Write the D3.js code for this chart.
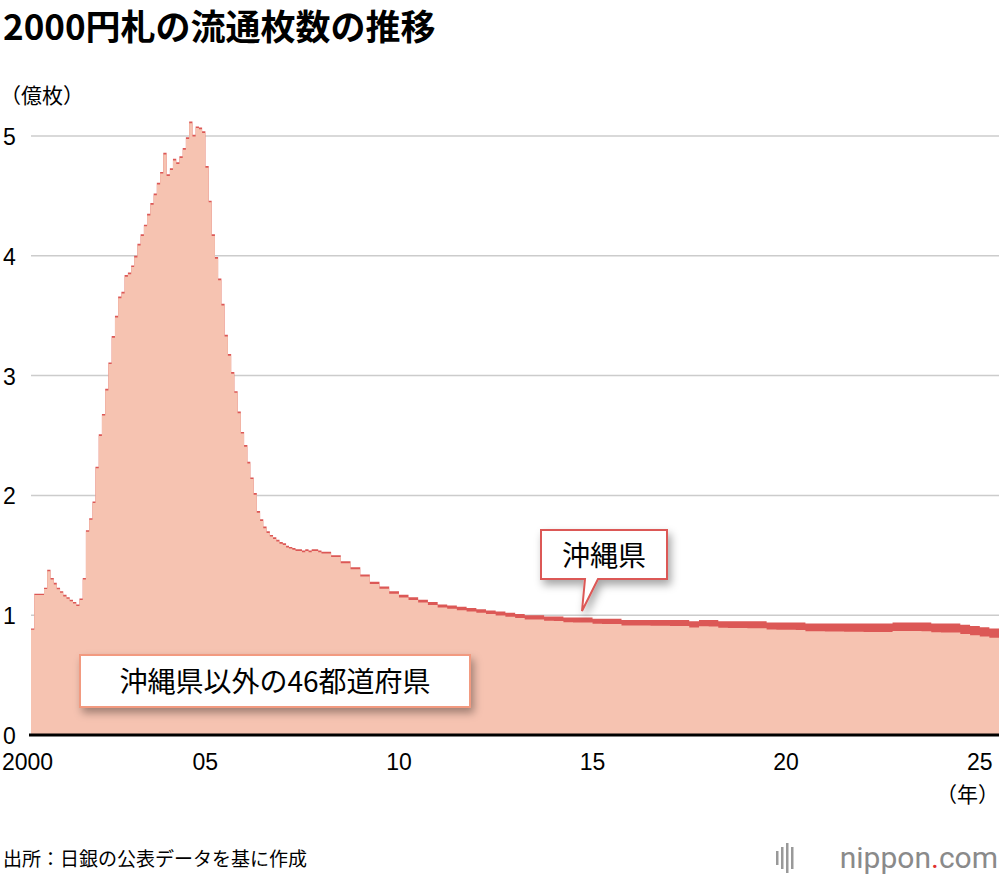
<!DOCTYPE html>
<html><head><meta charset="utf-8">
<script src="https://cdn.jsdelivr.net/npm/d3@7"></script>
<style>body{margin:0;background:#fff;font-family:"Noto Sans CJK JP",sans-serif}</style>
</head><body><svg id="c" width="1000" height="880"></svg>
<script>
// monthly values 2000-07 .. 2007-12 (億枚), total
const monthlyTotal = [0.89,1.18,1.18,1.18,1.23,1.38,1.31,1.27,1.23,1.20,1.17,1.15,1.13,1.11,1.09,1.14,1.31,1.71,1.81,1.95,
  2.24,2.51,2.68,2.89,3.11,3.33,3.50,3.66,3.70,3.84,3.86,3.92,4.00,4.10,4.18,4.26,4.35,4.44,4.52,4.61,
  4.70,4.86,4.68,4.73,4.81,4.78,4.83,4.90,4.99,5.12,5.01,5.08,5.07,5.04,4.75,4.46,4.18,3.99,3.81,3.60,
  3.34,3.18,3.03,2.87,2.70,2.53,2.42,2.28,2.15,2.02,1.87,1.80,1.74,1.70,1.67,1.65,1.63,1.61,1.60,1.58,
  1.57,1.56,1.55,1.55,1.54,1.55,1.54,1.55,1.55,1.54];
const monthlyOkinawa = [0.012,0.012,0.012,0.012,0.012,0.013,0.013,0.013,0.013,0.013,0.013,0.013,0.013,0.013,0.013,0.013,0.013,0.014,0.014,0.014,
  0.014,0.014,0.014,0.014,0.014,0.014,0.014,0.014,0.014,0.014,0.014,0.014,0.014,0.014,0.014,0.014,0.014,0.014,0.014,0.014,
  0.014,0.014,0.014,0.014,0.014,0.014,0.014,0.014,0.014,0.014,0.014,0.014,0.014,0.014,0.014,0.014,0.014,0.014,0.014,0.014,
  0.014,0.014,0.014,0.014,0.014,0.014,0.014,0.014,0.014,0.014,0.014,0.014,0.014,0.014,0.014,0.014,0.014,0.014,0.014,0.014,
  0.014,0.014,0.014,0.014,0.014,0.014,0.014,0.014,0.014,0.014];
// quarterly values 2008Q1 .. 2025Q2
const quarterlyTotal = [1.53,1.50,1.45,1.40, 1.34,1.28,1.24,1.20, 1.17,1.15,1.13,1.11, 1.09,1.08,1.07,1.06,
  1.05,1.04,1.03,1.02, 1.01,1.00,1.00,0.99, 0.99,0.98,0.98,0.98, 0.97,0.97,0.97,0.96, 0.96,0.96,0.96,0.96,
  0.96,0.96,0.95,0.96, 0.96,0.95,0.95,0.95, 0.95,0.95,0.94,0.94, 0.94,0.94,0.93,0.93, 0.93,0.93,0.93,0.93,
  0.93,0.93,0.93,0.94, 0.94,0.94,0.94,0.93, 0.93,0.93,0.92,0.91, 0.90,0.89];
const quarterlyOkinawa = [0.015,0.015,0.016,0.017, 0.018,0.019,0.02,0.021, 0.022,0.023,0.024,0.025, 0.026,0.027,0.028,0.029,
  0.03,0.031,0.032,0.033, 0.034,0.035,0.036,0.037, 0.038,0.039,0.04,0.041, 0.042,0.043,0.044,0.045, 0.046,0.047,0.048,0.049,
  0.05,0.051,0.052,0.053, 0.054,0.055,0.056,0.057, 0.058,0.059,0.06,0.061, 0.062,0.063,0.064,0.065, 0.066,0.067,0.068,0.069,
  0.07,0.07,0.071,0.071, 0.072,0.072,0.073,0.073, 0.074,0.075,0.076,0.077, 0.078,0.079];
const yTicks = [0,1,2,3,4,5];
const xTicks = [[2000,'2000'],[2005,'05'],[2010,'10'],[2015,'15'],[2020,'20'],[2025,'25']];

const dates = d3.timeMonth.range(new Date(2000,6,1), new Date(2008,0,1))
  .concat(d3.timeMonth.every(3).range(new Date(2008,0,1), new Date(2025,6,1)));
const totals = monthlyTotal.concat(quarterlyTotal);
const oki = monthlyOkinawa.concat(quarterlyOkinawa);
const data = dates.map((d,i) => ({date:d, others: totals[i]-oki[i], total: totals[i]}));
data.push({date:new Date(2025,6,1), others:data[data.length-1].others, total:data[data.length-1].total});

const svg = d3.select('#c');
const x = d3.scaleTime().domain([new Date(2000,6,1), new Date(2025,6,1)]).range([31, 999]);
const y = d3.scaleLinear().domain([0,5]).range([735, 136]);

svg.append('text').attr('x',3).attr('y',40).attr('font-size',35).attr('font-weight','bold').text('2000円札の流通枚数の推移');
svg.append('text').attr('x',0).attr('y',103).attr('font-size',21).text('（億枚）');

svg.append('g').selectAll('line').data(yTicks.slice(1)).join('line')
  .attr('x1',31).attr('x2',999).attr('y1',d=>y(d)).attr('y2',d=>y(d))
  .attr('stroke','#ccc').attr('stroke-width',1.5);
svg.append('g').selectAll('text').data(yTicks).join('text')
  .attr('x',3).attr('y',d=>y(d)+9).attr('font-size',23).attr('font-family','Liberation Sans, sans-serif').text(d=>d);

svg.append('path').datum(data)
  .attr('d', d3.area().curve(d3.curveStepAfter).x(d=>x(d.date)).y0(y(0)).y1(d=>y(d.total)))
  .attr('fill','#dc5856');
svg.append('path').datum(data)
  .attr('d', d3.area().curve(d3.curveStepAfter).x(d=>x(d.date)).y0(y(0)).y1(d=>y(d.others)))
  .attr('fill','#f6c3b1');

svg.append('line').attr('x1',29).attr('x2',999).attr('y1',735).attr('y2',735).attr('stroke','#000').attr('stroke-width',3);

svg.append('g').selectAll('text').data(xTicks).join('text')
  .attr('x',d=> d[0]===2000 ? 2 : x(new Date(d[0],0,1)))
  .attr('text-anchor',d=> d[0]===2000 ? 'start' : 'middle')
  .attr('y',770).attr('font-size',23).attr('font-family','Liberation Sans, sans-serif').text(d=>d[1]);
svg.append('text').attr('x',999).attr('y',802).attr('text-anchor','end').attr('font-size',21).text('（年）');

const defs = svg.append('defs');
defs.append('filter').attr('id','sh').attr('x','-20%').attr('y','-30%').attr('width','140%').attr('height','170%')
  .append('feDropShadow').attr('dx',3).attr('dy',5).attr('stdDeviation',4).attr('flood-color','#000').attr('flood-opacity',0.35);

const b1 = svg.append('g').attr('filter','url(#sh)');
b1.append('rect').attr('x',80).attr('y',655).attr('width',390).attr('height',52).attr('fill','#fff').attr('stroke','#f29a80').attr('stroke-width',2);
svg.append('text').attr('x',275).attr('y',692).attr('text-anchor','middle').attr('font-size',28).text('沖縄県以外の46都道府県');

const b2 = svg.append('g').attr('filter','url(#sh)');
b2.append('path').attr('d','M541,530 H667 V579 H598 L582,611 L585,579 H541 Z')
  .attr('fill','#fff').attr('stroke','#dc5856').attr('stroke-width',2);
svg.append('text').attr('x',604).attr('y',566).attr('text-anchor','middle').attr('font-size',28).text('沖縄県');

svg.append('text').attr('x',3).attr('y',866).attr('font-size',19).text('出所：日銀の公表データを基に作成');
const logo = svg.append('g');
logo.selectAll('rect').data([0,1,2,3]).join('rect')
  .attr('x',d=>776+d*5).attr('y',d=>[851,847,843,847][d]).attr('width',2.5).attr('height',d=>[14,22,30,22][d]).attr('fill','#999');
const lt = logo.append('text').attr('x',998).attr('y',868).attr('text-anchor','end').attr('font-size',30)
  .attr('font-family','Roboto, sans-serif').attr('fill','#8a8a8a');
lt.append('tspan').text('nippon');
lt.append('tspan').attr('fill','#e03030').text('.');
lt.append('tspan').text('com');
</script></body></html>
